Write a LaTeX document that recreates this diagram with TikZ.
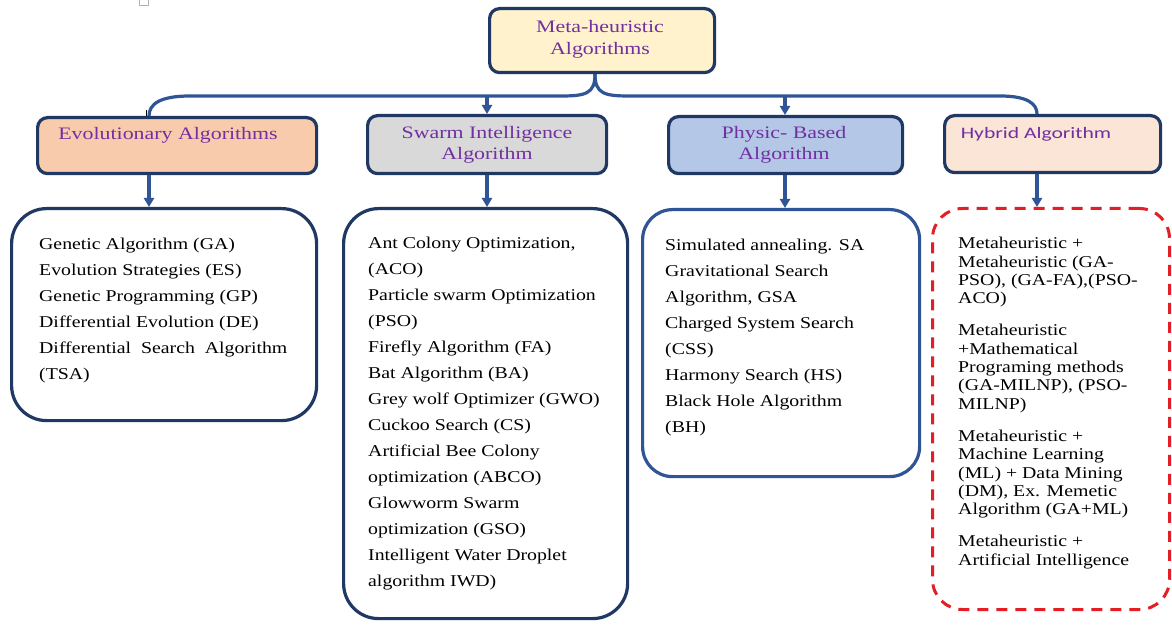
\documentclass[tikz,border=0pt]{standalone}
\usepackage{fontspec}
\setmainfont{Liberation Serif}
\newfontfamily\bodyfont[FakeStretch=1.2]{Liberation Serif}
\newfontfamily\ttlfont[FakeStretch=1.25]{Liberation Serif}
\newfontfamily\hybfont[FakeStretch=1.35]{Carlito}
\usetikzlibrary{arrows.meta}
\definecolor{navy}{HTML}{1F3864}
\definecolor{midblue}{HTML}{2F5597}
\definecolor{connblue}{HTML}{2F5597}
\definecolor{purp}{HTML}{7030A0}
\definecolor{topfill}{HTML}{FFF2CC}
\definecolor{evofill}{HTML}{F8CBAD}
\definecolor{swfill}{HTML}{D9D9D9}
\definecolor{phfill}{HTML}{B4C7E7}
\definecolor{hyfill}{HTML}{FBE5D6}
\definecolor{dashred}{HTML}{E31E24}
\begin{document}
\begin{tikzpicture}[x=1pt,y=-1pt,
  catbox/.style={draw=navy, line width=3.2pt, rounded corners=10pt, anchor=north west, inner sep=0pt},
  cbox/.style={line width=3.2pt, rounded corners=35pt, anchor=north west, inner sep=0pt},
  ttl/.style={font=\ttlfont\fontsize{17.5}{21.5}\selectfont, text=purp, align=center, inner sep=0pt},
  body/.style={font=\bodyfont\fontsize{16.5}{26}\selectfont, align=left, anchor=north west, inner sep=0pt, text=black},
  conn/.style={draw=connblue, line width=3.2pt},
  arr/.style={conn, -{Triangle[length=9pt,width=10pt]}}
]
\useasboundingbox[fill=white] (0,0) rectangle (1172,628);

% artifacts
\draw[gray!60, line width=0.6pt] (139,-4) rectangle (148,5);
\draw[black, line width=0.8pt] (146,110) -- (146,127);

% top node
\node[catbox, fill=topfill, minimum width=225pt, minimum height=64pt] (top) at (488,7) {};
\node[ttl] (topT) at (600,39.5) {Meta-heuristic\\Algorithms};

% category boxes
\node[catbox, fill=evofill, minimum width=279pt, minimum height=56pt] (evo) at (36,116) {};
\node[catbox, fill=swfill, minimum width=239pt, minimum height=58pt] (sw) at (366,114) {};
\node[catbox, fill=phfill, minimum width=234pt, minimum height=57pt] (ph) at (667,115) {};
\node[catbox, fill=hyfill, minimum width=216pt, minimum height=57pt] (hy) at (943,114) {};

\node[ttl] (evoT) at (168,135.5) {Evolutionary Algorithms};
\node[ttl] (swT) at (487,145) {Swarm Intelligence\\Algorithm};
\node[ttl] (phT) at (784,145) {Physic- Based\\Algorithm};
\node[ttl, font=\hybfont\fontsize{16}{20}\selectfont] (hyT) at (1036,134) {Hybrid Algorithm};

% content boxes
\node[cbox, draw=navy, minimum width=305pt, minimum height=212pt] (evc) at (10,207) {};
\node[cbox, draw=navy, minimum width=284pt, minimum height=410pt] (swc) at (342,207) {};
\node[cbox, draw=midblue, rounded corners=30pt, minimum width=277pt, minimum height=267pt] (phc) at (641,208) {};
\node[cbox, draw=dashred, line width=3pt, dash pattern=on 11pt off 8pt, rounded corners=30pt, minimum width=237pt, minimum height=401pt] (hyc) at (931,207) {};

\node[body] (evcT) at (39,238) {Genetic Algorithm (GA)\\Evolution Strategies (ES)\\Genetic Programming (GP)\\Differential Evolution (DE)\\Differential\ \ Search\ \ Algorithm\\(TSA)};
\node[body] (swcT) at (368,237) {Ant Colony Optimization,\\(ACO)\\Particle swarm Optimization\\(PSO)\\Firefly Algorithm (FA)\\Bat Algorithm (BA)\\Grey wolf Optimizer (GWO)\\Cuckoo Search (CS)\\Artificial Bee Colony\\optimization (ABCO)\\Glowworm Swarm\\optimization (GSO)\\Intelligent Water Droplet\\algorithm IWD)};
\node[body] (phcT) at (665,239) {Simulated annealing. SA\\Gravitational Search\\Algorithm, GSA\\Charged System Search\\(CSS)\\Harmony Search (HS)\\Black Hole Algorithm\\(BH)};
\node[body, font=\bodyfont\fontsize{16.5}{18.4}\selectfont] (hycT) at (958,237) {Metaheuristic +\\Metaheuristic (GA-\\PSO), (GA-FA),(PSO-\\ACO)\\[13.5pt]Metaheuristic\\+Mathematical\\Programing methods\\(GA-MILNP), (PSO-\\MILNP)\\[13.5pt]Metaheuristic +\\Machine Learning\\(ML) + Data Mining\\(DM), Ex. Memetic\\Algorithm (GA+ML)\\[13.5pt]Metaheuristic +\\Artificial Intelligence};

% connectors
\coordinate (hx) at (595,0);
\coordinate (ex) at (149,0);
\coordinate (sx) at (487,0);
\coordinate (px) at (785,0);
\coordinate (yx) at (1037,0);
\coordinate (bus) at (0,96);
\draw[conn] (top.south -| hx) .. controls ++(0,20) and (585,96) .. (560,96) -- (190,96) .. controls (160,96) and (149,104) .. (evo.north -| ex);
\draw[conn] (top.south -| hx) .. controls ++(0,20) and (605,96) .. (630,96) -- (1000,96) .. controls (1028,96) and (1037,104) .. (hy.north -| yx);
\draw[arr] (sx |- bus) -- (sw.north -| sx);
\draw[arr] (px |- bus) -- (ph.north -| px);
\draw[arr] (evo.south -| ex) -- (evc.north -| ex);
\draw[arr] (sw.south -| sx) -- (swc.north -| sx);
\draw[arr] (ph.south -| px) -- (phc.north -| px);
\draw[arr] (hy.south -| yx) -- (hyc.north -| yx);
\end{tikzpicture}
\end{document}
